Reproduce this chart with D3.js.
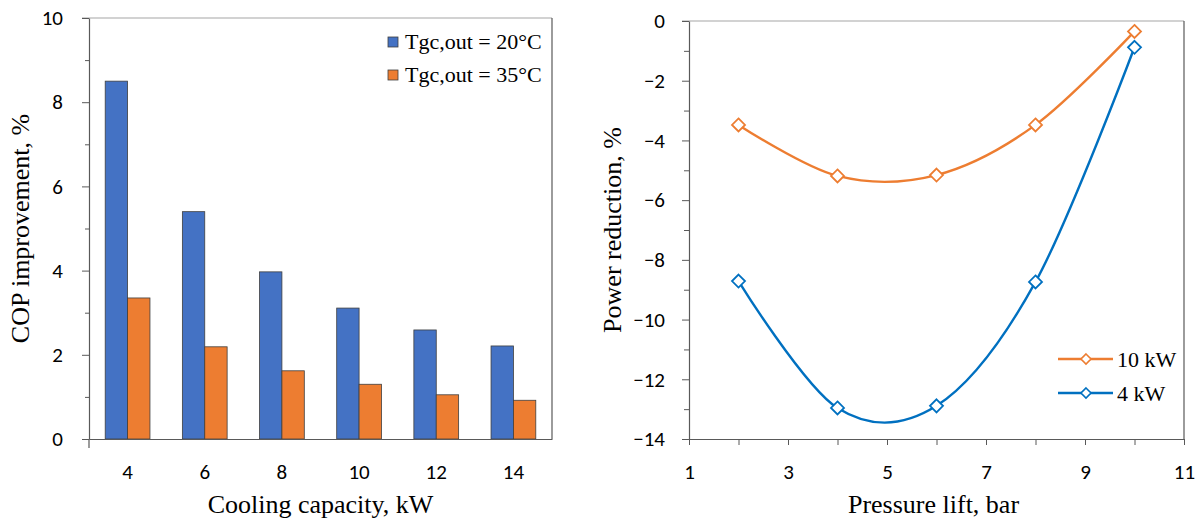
<!DOCTYPE html>
<html lang="en">
<head>
  <meta charset="UTF-8" />
  <title>COP improvement and power reduction</title>
  <script src="https://d3js.org/d3.v7.min.js"></script>
  <style>
    body { margin: 0; background: #fff; }
    svg { display: block; }
    .tick-label { font-family: Carlito, Calibri, Lato, sans-serif; font-size: 21px; fill: #000; }
    .title { font-family: "Liberation Serif", "Times New Roman", serif; font-size: 26px; fill: #000; }
    .legend { font-family: "Liberation Serif", "Times New Roman", serif; font-size: 22px; fill: #000; }
  </style>
</head>
<body>
  <svg width="1203" height="524"></svg>

  <script>
    // ---- data ----
    const capacities = [4, 6, 8, 10, 12, 14];
    const barSeries = ["Tgc,out = 20°C", "Tgc,out = 35°C"];
    const cop20 = [8.5, 5.4, 3.97, 3.11, 2.59, 2.21];
    const cop35 = [3.35, 2.19, 1.62, 1.3, 1.05, 0.92];
    const copTicks = [0, 2, 4, 6, 8, 10];

    const pressureLift = [2, 4, 6, 8, 10];
    const lineSeries = ["10 kW", "4 kW"];
    const power10kW = [-3.48, -5.19, -5.16, -3.48, -0.35];
    const power4kW = [-8.71, -12.96, -12.89, -8.74, -0.88];
    const powerTicks = [0, -2, -4, -6, -8, -10, -12, -14];
    const liftTicks = [1, 3, 5, 7, 9, 11];

    const svg = d3.select("svg");
    const axisDark = "#595959";
    const frameGray = "#a6a6a6";
    const blue = "#4472c4", orange = "#ed7d31", lineBlue = "#0070c0";

    // ================= left chart: bars =================
    const L = { x0: 89, x1: 552, y0: 18, y1: 439 };
    const xBand = d3.scaleBand().domain(capacities).range([L.x0, L.x1]);
    const bw = xBand.bandwidth();
    const gw = bw * 0.58;
    const xInner = d3.scaleBand().domain(barSeries).range([(bw - gw) / 2, (bw + gw) / 2]);
    const yCop = d3.scaleLinear().domain([0, 10]).range([L.y1, L.y0]);

    const left = svg.append("g");

    // top (gray) and right (dark) frame
    left.append("line").attr("x1", L.x0 - 7).attr("x2", L.x1).attr("y1", L.y0).attr("y2", L.y0)
      .attr("stroke", frameGray).attr("stroke-width", 1.2);
    left.append("line").attr("x1", L.x1).attr("x2", L.x1).attr("y1", L.y0).attr("y2", L.y1)
      .attr("stroke", axisDark).attr("stroke-width", 1.2);

    const barData = capacities.map((c, i) => ({ c, vals: [cop20[i], cop35[i]] }));
    const groups = left.selectAll("g.grp").data(barData).enter().append("g")
      .attr("transform", d => `translate(${xBand(d.c)},0)`);
    groups.selectAll("rect").data(d => d.vals.map((v, j) => ({ s: barSeries[j], v })))
      .enter().append("rect")
      .attr("x", d => xInner(d.s))
      .attr("width", xInner.bandwidth())
      .attr("y", d => yCop(d.v))
      .attr("height", d => yCop(0) - yCop(d.v))
      .attr("fill", (d, j) => j === 0 ? blue : orange)
      .attr("stroke", "#3f3f3f").attr("stroke-width", 0.8);

    // y axis: major + minor ticks
    left.append("g").attr("transform", `translate(${L.x0},0)`)
      .call(d3.axisLeft(yCop).tickValues([1, 3, 5, 7, 9]).tickSize(4).tickFormat("").tickSizeOuter(0))
      .call(g => g.select(".domain").remove())
      .call(g => g.selectAll("line").attr("stroke", axisDark));
    left.append("g").attr("transform", `translate(${L.x0},0)`)
      .call(d3.axisLeft(yCop).tickValues(copTicks).tickSize(7).tickPadding(19).tickSizeOuter(0))
      .call(g => g.select(".domain").attr("stroke", axisDark).attr("stroke-width", 1.2))
      .call(g => g.selectAll("line").attr("stroke", axisDark))
      .call(g => g.selectAll("text").attr("class", "tick-label").attr("font-size", null).attr("font-family", null));

    // x axis
    left.append("g").attr("transform", `translate(0,${L.y1})`)
      .call(d3.axisBottom(xBand).tickSize(0).tickPadding(25))
      .call(g => g.select(".domain").attr("stroke", axisDark).attr("stroke-width", 1.2))
      .call(g => g.selectAll("text").attr("class", "tick-label").attr("font-size", null).attr("font-family", null));
    left.append("line").attr("x1", L.x0).attr("x2", L.x0).attr("y1", L.y1).attr("y2", L.y1 + 9)
      .attr("stroke", axisDark).attr("stroke-width", 1.2);

    left.append("text").attr("class", "title").attr("text-anchor", "middle")
      .attr("x", (L.x0 + L.x1) / 2).attr("y", 513).text("Cooling capacity, kW");
    left.append("text").attr("class", "title").attr("text-anchor", "middle")
      .attr("transform", `translate(29,${(L.y0 + L.y1) / 2}) rotate(-90)`).text("COP improvement, %");

    // legend
    const legL = left.append("g").attr("transform", "translate(388,42)");
    barSeries.forEach((s, i) => {
      const row = legL.append("g").attr("transform", `translate(0,${i * 33})`);
      row.append("rect").attr("x", 0).attr("y", -5).attr("width", 10).attr("height", 10)
        .attr("fill", i === 0 ? blue : orange).attr("stroke", "#3f3f3f").attr("stroke-width", 0.8);
      row.append("text").attr("class", "legend").attr("x", 17).attr("y", 7).text(s);
    });

    // ================= right chart: lines =================
    const R = { x0: 689, x1: 1184, y0: 21, y1: 439 };
    const xLift = d3.scaleLinear().domain([1, 11]).range([R.x0, R.x1]);
    const yPow = d3.scaleLinear().domain([-14, 0]).range([R.y1, R.y0]);

    const right = svg.append("g");
    right.append("line").attr("x1", R.x0 - 7).attr("x2", R.x1).attr("y1", R.y0).attr("y2", R.y0)
      .attr("stroke", frameGray).attr("stroke-width", 1.2);
    right.append("line").attr("x1", R.x1).attr("x2", R.x1).attr("y1", R.y0).attr("y2", R.y1)
      .attr("stroke", axisDark).attr("stroke-width", 1.2);

    right.append("g").attr("transform", `translate(${R.x0},0)`)
      .call(d3.axisLeft(yPow).tickValues([-1, -3, -5, -7, -9, -11, -13]).tickSize(5).tickFormat("").tickSizeOuter(0))
      .call(g => g.select(".domain").remove())
      .call(g => g.selectAll("line").attr("stroke", axisDark));
    right.append("g").attr("transform", `translate(${R.x0},0)`)
      .call(d3.axisLeft(yPow).tickValues(powerTicks).tickSize(7).tickPadding(17).tickSizeOuter(0))
      .call(g => g.select(".domain").attr("stroke", axisDark).attr("stroke-width", 1.2))
      .call(g => g.selectAll("line").attr("stroke", axisDark))
      .call(g => g.selectAll("text").attr("class", "tick-label").attr("font-size", null).attr("font-family", null));

    right.append("g").attr("transform", `translate(0,${R.y1})`)
      .call(d3.axisBottom(xLift).tickValues([2, 4, 6, 8, 10]).tickSize(6).tickFormat("").tickSizeOuter(0))
      .call(g => g.select(".domain").remove())
      .call(g => g.selectAll("line").attr("stroke", axisDark));
    right.append("g").attr("transform", `translate(0,${R.y1})`)
      .call(d3.axisBottom(xLift).tickValues(liftTicks).tickSize(6).tickPadding(19).tickSizeOuter(0))
      .call(g => g.select(".domain").attr("stroke", axisDark).attr("stroke-width", 1.2))
      .call(g => g.selectAll("line").attr("stroke", axisDark))
      .call(g => g.selectAll("text").attr("class", "tick-label").attr("font-size", null).attr("font-family", null));

    right.append("text").attr("class", "title").attr("text-anchor", "middle")
      .attr("x", (R.x0 + R.x1) / 2 - 3).attr("y", 513).text("Pressure lift, bar");
    right.append("text").attr("class", "title").attr("text-anchor", "middle")
      .attr("transform", `translate(621,${(R.y0 + R.y1) / 2}) rotate(-90)`).text("Power reduction, %");

    const diamond = "M0,-6.5L6.5,0L0,6.5L-6.5,0Z";
    const line = d3.line().x(d => xLift(d[0])).y(d => yPow(d[1])).curve(d3.curveCatmullRom.alpha(0));
    const lines = [
      { name: lineSeries[0], color: orange, vals: power10kW },
      { name: lineSeries[1], color: lineBlue, vals: power4kW }
    ];
    lines.forEach(s => {
      const pts = pressureLift.map((p, i) => [p, s.vals[i]]);
      right.append("path").datum(pts).attr("d", line)
        .attr("fill", "none").attr("stroke", s.color).attr("stroke-width", 2.4);
      right.selectAll(null).data(pts).enter().append("path")
        .attr("d", diamond)
        .attr("transform", d => `translate(${xLift(d[0])},${yPow(d[1])})`)
        .attr("fill", "#fff").attr("stroke", s.color).attr("stroke-width", 1.8);
    });

    // legend
    const legR = right.append("g").attr("transform", "translate(1058,359)");
    lines.forEach((s, i) => {
      const row = legR.append("g").attr("transform", `translate(0,${i * 34})`);
      row.append("line").attr("x1", 0).attr("x2", 55).attr("stroke", s.color).attr("stroke-width", 2.4);
      row.append("path").attr("d", "M0,-5L5,0L0,5L-5,0Z").attr("transform", "translate(28,0)")
        .attr("fill", "#fff").attr("stroke", s.color).attr("stroke-width", 1.6);
      row.append("text").attr("class", "legend").attr("x", 59).attr("y", 8).text(s.name);
    });
  </script>
</body>
</html>
